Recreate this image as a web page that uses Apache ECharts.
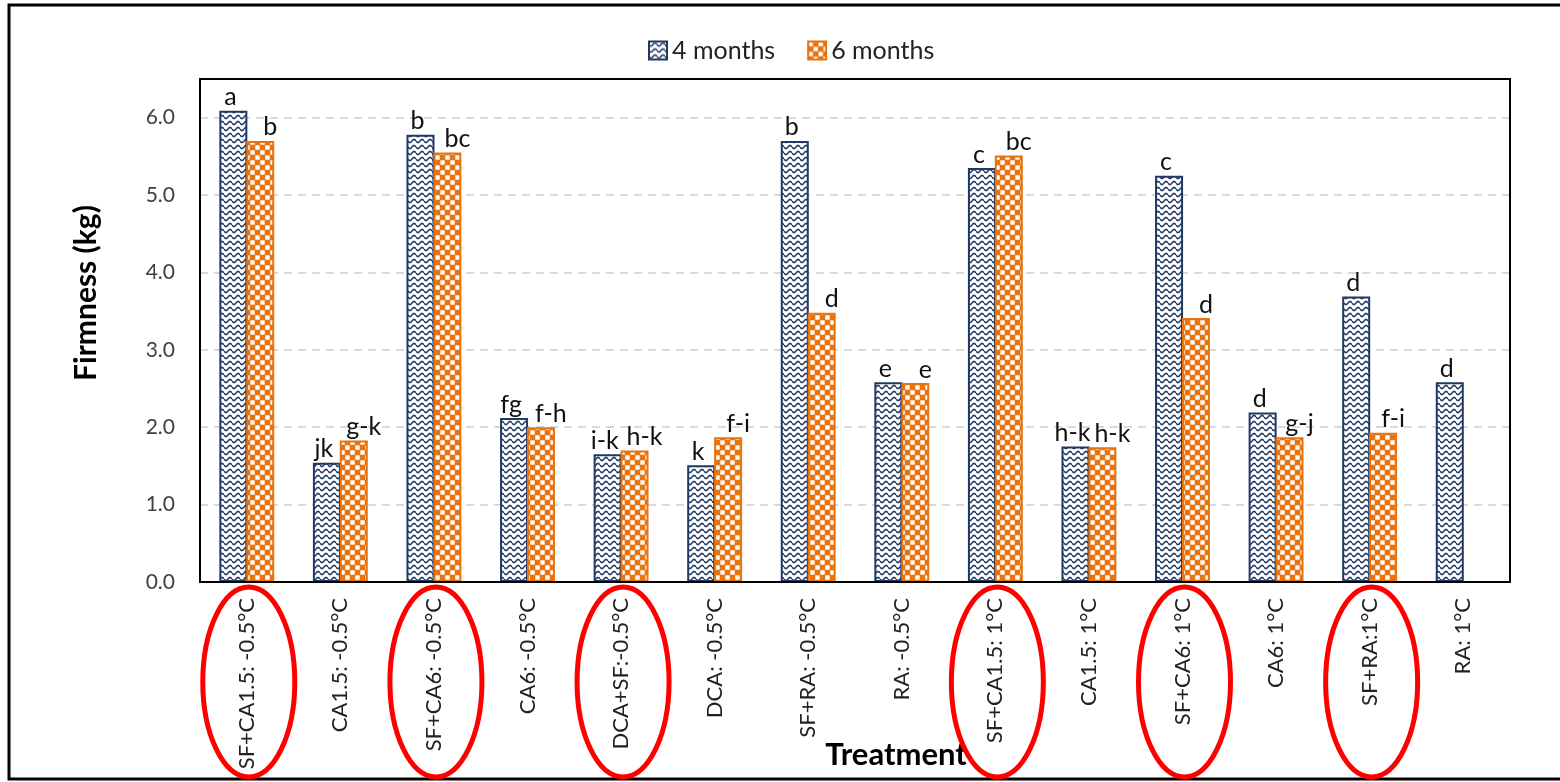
<!DOCTYPE html>
<html>
<head>
<meta charset="utf-8">
<script src="https://cdn.jsdelivr.net/npm/echarts@6/dist/echarts.min.js"></script>
<style>
  html, body { margin: 0; padding: 0; background: #fff; }
  #chart { width: 1560px; height: 782px; }
</style>
</head>
<body>
<div id="chart"></div>
<script>
// Firmness of fruit after storage, by treatment
const treatments = [
  'SF+CA1.5: -0.5°C', 'CA1.5: -0.5°C', 'SF+CA6: -0.5°C', 'CA6: -0.5°C',
  'DCA+SF:-0.5°C', 'DCA: -0.5°C', 'SF+RA: -0.5°C', 'RA: -0.5°C',
  'SF+CA1.5: 1°C', 'CA1.5: 1°C', 'SF+CA6: 1°C', 'CA6: 1°C',
  'SF+RA:1°C', 'RA: 1°C'
];
const firmness4 = [6.09, 1.54, 5.78, 2.12, 1.65, 1.51, 5.70, 2.58, 5.35, 1.75, 5.25, 2.19, 3.69, 2.58];
const firmness6 = [5.70, 1.83, 5.55, 2.00, 1.70, 1.87, 3.48, 2.57, 5.51, 1.74, 3.41, 1.87, 1.93, null];
const letters4 = ['a', 'jk', 'b', 'fg', 'i-k', 'k', 'b', 'e', 'c', 'h-k', 'c', 'd', 'd', 'd'];
const letters6 = ['b', 'g-k', 'bc', 'f-h', 'h-k', 'f-i', 'd', 'e', 'bc', 'h-k', 'd', 'g-j', 'f-i', ''];
const yTicks = [0, 1, 2, 3, 4, 5, 6];
// treatments circled in red
const highlighted = [0, 2, 4, 8, 10, 12];

const NAVY = '#1F3864';
const ORANGE = '#E8730F';
const FONT = 'Lato, "Open Sans", sans-serif';

// wavy-line fill for the 4-month bars
function wavePattern() {
  const c = document.createElement('canvas');
  c.width = 8; c.height = 6;
  const g = c.getContext('2d');
  g.fillStyle = '#fff';
  g.fillRect(0, 0, 8, 6);
  g.strokeStyle = NAVY;
  g.lineWidth = 1.5;
  g.beginPath();
  for (let x = 0; x <= 8; x += 0.5) {
    const y = 3 + 1.6 * Math.sin((x / 8) * Math.PI * 2);
    if (x === 0) g.moveTo(x, y); else g.lineTo(x, y);
  }
  g.stroke();
  return c;
}

// checkerboard fill for the 6-month bars
function checkerPattern() {
  const c = document.createElement('canvas');
  c.width = 10; c.height = 10;
  const g = c.getContext('2d');
  g.fillStyle = ORANGE;
  g.fillRect(0, 0, 10, 10);
  g.fillStyle = '#fff';
  g.fillRect(0.3, 0.3, 4.4, 4.4);
  g.fillRect(5.3, 5.3, 4.4, 4.4);
  return c;
}

const chart = echarts.init(document.getElementById('chart'), null, { renderer: 'canvas' });

const option = {
  backgroundColor: '#fff',
  animation: false,
  legend: {
    top: 33,
    left: 643,
    itemWidth: 18,
    itemHeight: 18,
    itemGap: 32,
    itemTextGap: 6,
    icon: 'rect',
    textStyle: { fontSize: 25, color: '#222', fontFamily: FONT },
    data: ['4 months', '6 months']
  },
  grid: {
    left: 200, top: 79, width: 1310, height: 503,
    show: true, borderColor: '#000', borderWidth: 2,
    containLabel: false
  },
  xAxis: {
    type: 'category',
    data: treatments,
    axisLine: { lineStyle: { color: '#000', width: 2 } },
    axisTick: { show: false },
    axisLabel: {
      rotate: 90, margin: 16, interval: 0,
      fontSize: 22, color: '#222', fontFamily: FONT
    }
  },
  yAxis: {
    type: 'value',
    min: 0, max: 6.5, interval: 1,
    axisLine: { show: true, lineStyle: { color: '#000', width: 2 } },
    axisTick: { show: false },
    axisLabel: {
      margin: 25, fontSize: 21, color: '#404040', fontFamily: FONT,
      formatter: v => (yTicks.indexOf(v) >= 0 ? v.toFixed(1) : '')
    },
    splitLine: {
      showMinLine: false, showMaxLine: false,
      lineStyle: { color: '#D9D9D9', width: 2, type: [8, 6] }
    }
  },
  series: [
    {
      name: '4 months',
      type: 'bar',
      data: firmness4,
      barWidth: 28,
      barGap: '-4%',
      itemStyle: {
        color: { image: wavePattern(), repeat: 'repeat' },
        borderColor: NAVY, borderWidth: 2
      },
      label: {
        show: true, position: 'top', distance: 1, offset: [-3, 0],
        fontSize: 25, color: '#111', fontFamily: FONT,
        formatter: p => letters4[p.dataIndex]
      }
    },
    {
      name: '6 months',
      type: 'bar',
      data: firmness6,
      barWidth: 28,
      itemStyle: {
        color: { image: checkerPattern(), repeat: 'repeat' },
        borderColor: ORANGE, borderWidth: 2
      },
      label: {
        show: true, position: 'top', distance: 1, offset: [10, 0],
        fontSize: 25, color: '#111', fontFamily: FONT,
        formatter: p => letters6[p.dataIndex]
      }
    }
  ]
};

chart.setOption(option);

// frame, axis titles and red circles around highlighted treatment labels
const graphics = [
  {
    type: 'rect', silent: true, z: 10,
    shape: { x: 9, y: 5, width: 1600, height: 774 },
    style: { fill: null, stroke: '#000', lineWidth: 3 }
  },
  {
    type: 'rect', silent: true, z: 10,
    shape: { x: 200, y: 79, width: 1310, height: 503 },
    style: { fill: null, stroke: '#000', lineWidth: 2 }
  },
  {
    type: 'text', x: 86, y: 293, rotation: Math.PI / 2,
    style: {
      text: 'Firmness (kg)', fill: '#000', fontSize: 30, fontWeight: 'bold',
      fontFamily: FONT, align: 'center', verticalAlign: 'middle'
    }
  },
  {
    type: 'text', x: 896, y: 755,
    style: {
      text: 'Treatment', fill: '#000', fontSize: 31, fontWeight: 'bold',
      fontFamily: FONT, align: 'center', verticalAlign: 'middle'
    }
  }
];
highlighted.forEach(i => {
  const cx = chart.convertToPixel({ xAxisIndex: 0 }, i);
  graphics.push({
    type: 'ellipse', silent: true, z: 20,
    shape: { cx: cx + 2, cy: 682, rx: 46, ry: 95 },
    style: { fill: null, stroke: '#FF0000', lineWidth: 5 }
  });
});
chart.setOption({ graphic: graphics });
</script>
</body>
</html>
